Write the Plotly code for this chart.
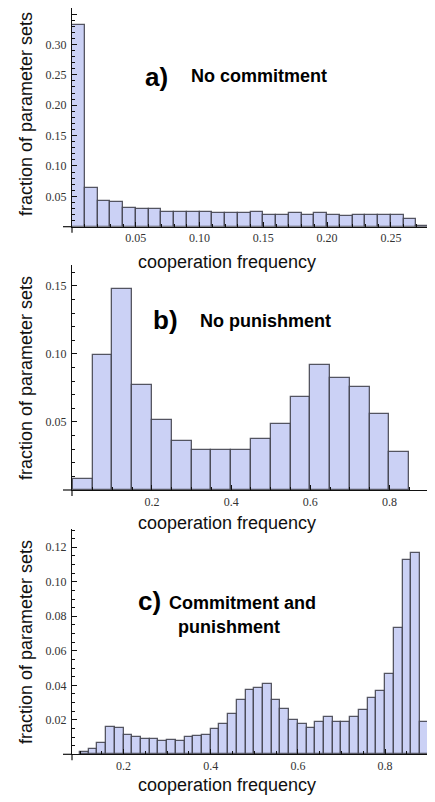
import numpy as np
import plotly.graph_objects as go

# The page body has an 8px margin; size the figure so it fits the 435x802 window.
OFF = 8
W, H = 435 - OFF, 802 - OFF

# ---------------- data ----------------
# Panel a: bins of width 0.01 starting at 0.00
a_bin_start, a_bin_width = 0.0, 0.01
a_values = [0.332, 0.064, 0.042, 0.040, 0.031, 0.029, 0.029, 0.024, 0.024, 0.024,
            0.024, 0.022, 0.022, 0.022, 0.025, 0.020, 0.020, 0.0225, 0.020, 0.0225,
            0.020, 0.0176, 0.020, 0.020, 0.020, 0.020, 0.013, 0.0015]
a_xticks = [0.05, 0.10, 0.15, 0.20, 0.25]
a_xticklabels = ["0.05", "0.10", "0.15", "0.20", "0.25"]
a_yticks = [0.05, 0.10, 0.15, 0.20, 0.25, 0.30, 0.35]
a_yticklabels = ["0.05", "0.10", "0.15", "0.20", "0.25", "0.30", "0.35"]

# Panel b: bins of width 0.05 starting at 0.00
b_bin_start, b_bin_width = 0.0, 0.05
b_values = [0.0078, 0.099, 0.148, 0.0775, 0.0515, 0.0358, 0.0294, 0.0294, 0.0294,
            0.0377, 0.0485, 0.0686, 0.0922, 0.0824, 0.0755, 0.0556, 0.0279]
b_xticks = [0.2, 0.4, 0.6, 0.8]
b_xticklabels = ["0.2", "0.4", "0.6", "0.8"]
b_yticks = [0.05, 0.10, 0.15]
b_yticklabels = ["0.05", "0.10", "0.15"]

# Panel c: bins of width 0.02 starting at 0.10
c_bin_start, c_bin_width = 0.10, 0.02
c_values = [0.0011, 0.0033, 0.0067, 0.0160, 0.0153, 0.0114, 0.0098, 0.0090, 0.0090, 0.0075,
            0.0082, 0.0075, 0.0098, 0.0106, 0.0114, 0.0145, 0.0176, 0.0233, 0.0312, 0.0375,
            0.0382, 0.0408, 0.0312, 0.0265, 0.0200, 0.0176, 0.0153, 0.0186, 0.0216, 0.0186,
            0.0186, 0.0216, 0.0255, 0.0327, 0.0369, 0.0465, 0.0734, 0.1126, 0.1165, 0.0190]
c_xticks = [0.2, 0.4, 0.6, 0.8]
c_xticklabels = ["0.2", "0.4", "0.6", "0.8"]
c_yticks = [0.02, 0.04, 0.06, 0.08, 0.10, 0.12]
c_yticklabels = ["0.02", "0.04", "0.06", "0.08", "0.10", "0.12"]

x_title = "cooperation frequency"
y_title = "fraction of parameter sets"

# ---------------- style ----------------
BAR_FILL = "#CBD1F5"
BAR_EDGE = "rgba(60,60,70,0.85)"
TICK_FONT = dict(family="Liberation Serif", size=12, color="#333333")
TITLE_FONT = dict(family="Liberation Sans", size=18, color="#111111")
AXIS_COLOR = "#111111"


def px_x(x):
    return (x - OFF) / W


def px_y(y):
    return 1 - (y - OFF) / H


panels = [
    dict(start=a_bin_start, width=a_bin_width, values=a_values,
         xticks=a_xticks, xlabels=a_xticklabels, yticks=a_yticks, ylabels=a_yticklabels,
         xr=[0.0, 0.283], yr=[0.0, 0.360], top=8, bottom=226.7,
         xminor=0.01, yminor=0.01, xtitle_y=262, ytitle_mid=114),
    dict(start=b_bin_start, width=b_bin_width, values=b_values,
         xticks=b_xticks, xlabels=b_xticklabels, yticks=b_yticks, ylabels=b_yticklabels,
         xr=[-0.002, 0.91], yr=[0.0, 0.1654], top=265, bottom=490,
         xminor=0.05, yminor=0.01, xtitle_y=523, ytitle_mid=378),
    dict(start=c_bin_start, width=c_bin_width, values=c_values,
         xticks=c_xticks, xlabels=c_xticklabels, yticks=c_yticks, ylabels=c_yticklabels,
         xr=[0.0816, 0.91], yr=[0.0, 0.1306], top=529, bottom=754.3,
         xminor=0.05, yminor=0.005, xtitle_y=785, ytitle_mid=642),
]

X0, X1 = 72, 433

fig = go.Figure()
layout = dict(width=W, height=H, margin=dict(l=0, r=0, t=0, b=0),
              plot_bgcolor="white", paper_bgcolor="white",
              showlegend=False, bargap=0)
shapes = []
annotations = []

for i, p in enumerate(panels):
    n = i + 1
    xa = "x" if n == 1 else f"x{n}"
    ya = "y" if n == 1 else f"y{n}"
    centers = [p["start"] + p["width"] * (k + 0.5) for k in range(len(p["values"]))]
    fig.add_trace(go.Bar(x=centers, y=p["values"], width=p["width"],
                         marker=dict(color=BAR_FILL, line=dict(color=BAR_EDGE, width=1.3)),
                         xaxis=xa, yaxis=ya, hoverinfo="skip"))
    xkey = "xaxis" if n == 1 else f"xaxis{n}"
    ykey = "yaxis" if n == 1 else f"yaxis{n}"
    layout[xkey] = dict(domain=[px_x(X0), px_x(X1)], range=p["xr"], anchor=ya,
                        tickmode="array", tickvals=p["xticks"], ticktext=p["xlabels"],
                        ticks="inside", ticklen=5, tickwidth=1, tickcolor=AXIS_COLOR,
                        minor=dict(ticks="inside", ticklen=3, tickwidth=1, tickcolor=AXIS_COLOR,
                                   dtick=p["xminor"], tick0=0, showgrid=False),
                        showline=True, linecolor=AXIS_COLOR, linewidth=1.2,
                        showgrid=False, zeroline=False, tickfont=TICK_FONT,
                        fixedrange=True)
    layout[ykey] = dict(domain=[px_y(p["bottom"]), min(1.0, px_y(p["top"]))], range=p["yr"],
                        anchor=xa,
                        tickmode="array", tickvals=p["yticks"], ticktext=p["ylabels"],
                        ticks="inside", ticklen=5, tickwidth=1, tickcolor=AXIS_COLOR,
                        minor=dict(ticks="inside", ticklen=3, tickwidth=1, tickcolor=AXIS_COLOR,
                                   dtick=p["yminor"], tick0=0, showgrid=False),
                        showline=True, linecolor=AXIS_COLOR, linewidth=1.2,
                        showgrid=False, zeroline=False, tickfont=TICK_FONT,
                        ticklabelstandoff=2, fixedrange=True)
    # axis extensions (Mathematica style crossing axes)
    shapes.append(dict(type="line", xref="paper", yref="paper",
                       x0=px_x(63), x1=px_x(X0), y0=px_y(p["bottom"]), y1=px_y(p["bottom"]),
                       line=dict(color=AXIS_COLOR, width=1.2)))
    shapes.append(dict(type="line", xref="paper", yref="paper",
                       x0=px_x(X0), x1=px_x(X0), y0=px_y(p["bottom"]), y1=px_y(p["bottom"] + 6),
                       line=dict(color=AXIS_COLOR, width=1.2)))
    annotations.append(dict(text=x_title, xref="paper", yref="paper",
                            x=px_x(227), y=px_y(p["xtitle_y"]), showarrow=False,
                            xanchor="center", yanchor="middle", font=TITLE_FONT))
    annotations.append(dict(text=y_title, xref="paper", yref="paper",
                            x=px_x(26), y=px_y(p["ytitle_mid"]), showarrow=False,
                            textangle=-90, xanchor="center", yanchor="middle", font=TITLE_FONT))

LABEL_BIG = dict(family="Liberation Sans", size=26, color="#000000")
LABEL_TXT = dict(family="Liberation Sans", size=18, color="#000000")

annotations += [
    dict(text="<b>a)</b>", x=px_x(143), y=px_y(77), xanchor="left", yanchor="middle",
         xref="paper", yref="paper", showarrow=False, font=LABEL_BIG),
    dict(text="<b>No commitment</b>", x=px_x(189), y=px_y(76), xanchor="left", yanchor="middle",
         xref="paper", yref="paper", showarrow=False, font=LABEL_TXT),
    dict(text="<b>b)</b>", x=px_x(151), y=px_y(320), xanchor="left", yanchor="middle",
         xref="paper", yref="paper", showarrow=False, font=LABEL_BIG),
    dict(text="<b>No punishment</b>", x=px_x(198), y=px_y(321), xanchor="left", yanchor="middle",
         xref="paper", yref="paper", showarrow=False, font=LABEL_TXT),
    dict(text="<b>c)</b>", x=px_x(136), y=px_y(601), xanchor="left", yanchor="middle",
         xref="paper", yref="paper", showarrow=False, font=LABEL_BIG),
    dict(text="<b>Commitment and</b>", x=px_x(167), y=px_y(603), xanchor="left", yanchor="middle",
         xref="paper", yref="paper", showarrow=False, font=LABEL_TXT),
    dict(text="<b>punishment</b>", x=px_x(176), y=px_y(627), xanchor="left", yanchor="middle",
         xref="paper", yref="paper", showarrow=False, font=LABEL_TXT),
]

layout["shapes"] = shapes
layout["annotations"] = annotations
fig.update_layout(**layout)
fig.write_html("out.html")
